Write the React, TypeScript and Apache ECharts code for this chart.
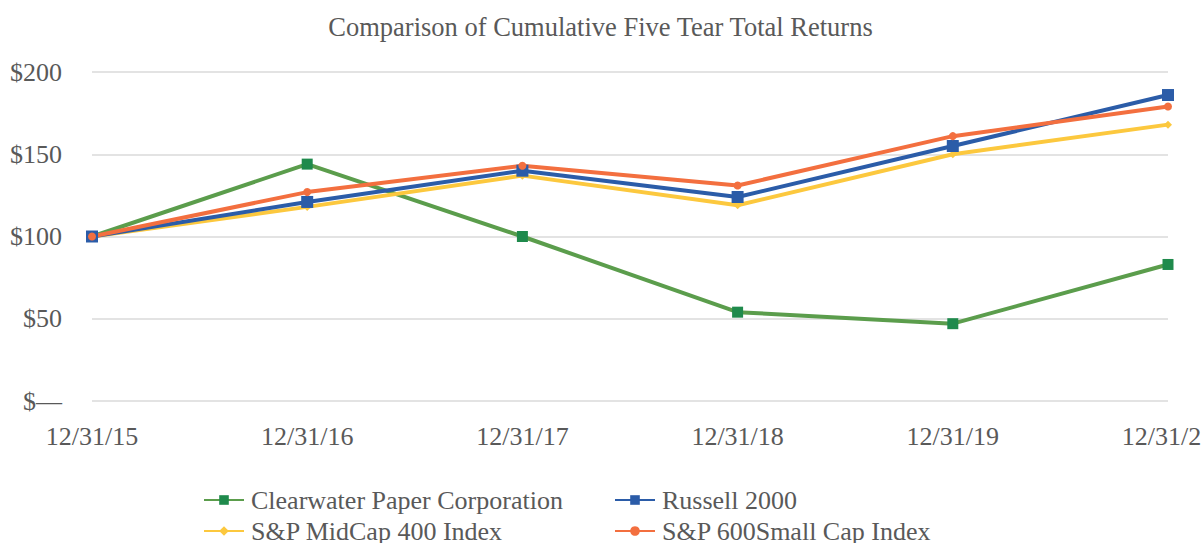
import React, { useEffect, useRef } from "react";
import * as echarts from "echarts";

const categories = ["12/31/15", "12/31/16", "12/31/17", "12/31/18", "12/31/19", "12/31/20"];
const clearwater = [100, 144, 100, 54, 47, 83];
const russell = [100, 121, 140, 124, 155, 186];
const midcap = [100, 118, 137, 119, 150, 168];
const sp600 = [100, 127, 143, 131, 161, 179];
const yTicks = [0, 50, 100, 150, 200];

const FONT = "'Liberation Serif', 'Times New Roman', serif";
const TXT = "#595959";

export default function App() {
  const ref = useRef<HTMLDivElement>(null);
  useEffect(() => {
    document.body.style.margin = "0";
    const chart = echarts.init(ref.current!, null, { renderer: "svg" });
    const mk = (name: string, data: number[], color: string, mcolor: string, symbol: string, size: number) => ({
      name,
      type: "line",
      data,
      symbol,
      symbolSize: size,
      showAllSymbol: true,
      lineStyle: { color, width: 4 },
      itemStyle: { color: mcolor, borderWidth: 0 },
    });
    const leg = (name: string, left: number, top: number) => ({
      left,
      top,
      itemWidth: 40,
      itemHeight: 12,
      data: [name],
      textStyle: { fontFamily: FONT, fontSize: 26, color: TXT, padding: [0, 0, 0, 2] },
    });
    chart.setOption({
      animation: false,
      title: {
        text: "Comparison of Cumulative Five Tear Total Returns",
        left: "center",
        top: 8,
        textStyle: { fontFamily: FONT, fontSize: 26.5, fontWeight: "normal", color: TXT },
      },
      legend: [
        leg("Clearwater Paper Corporation", 198, 482),
        leg("S&P MidCap 400 Index", 198, 513),
        leg("Russell 2000", 609, 482),
        leg("S&P 600Small Cap Index", 609, 513),
      ],
      grid: { left: 92, right: 33, top: 72, bottom: 142, outerBoundsMode: "none", containLabel: false },
      xAxis: {
        type: "category",
        data: categories,
        boundaryGap: false,
        axisLine: { show: false },
        axisTick: { show: false },
        axisLabel: { fontFamily: FONT, fontSize: 26, color: TXT, margin: 22, interval: 0 },
      },
      yAxis: {
        type: "value",
        min: yTicks[0],
        max: yTicks[yTicks.length - 1],
        interval: 50,
        axisLine: { show: false },
        axisTick: { show: false },
        splitLine: { lineStyle: { color: "#e3e3e3", width: 2 } },
        axisLabel: {
          fontFamily: FONT,
          fontSize: 26,
          color: TXT,
          margin: 30,
          formatter: (v: number) => (v === 0 ? "$—" : "$" + v),
        },
      },
      series: [
        mk("Clearwater Paper Corporation", clearwater, "#5b9d4c", "#1f8a4c", "rect", 11),
        mk("S&P MidCap 400 Index", midcap, "#fcc83e", "#fcc83e", "diamond", 8),
        mk("Russell 2000", russell, "#2b5ca8", "#2b5ca8", "rect", 12),
        mk("S&P 600Small Cap Index", sp600, "#f36f3f", "#f36f3f", "circle", 8),
      ],
    });
    return () => chart.dispose();
  }, []);
  return <div ref={ref} style={{ width: 1201, height: 543 }} />;
}
